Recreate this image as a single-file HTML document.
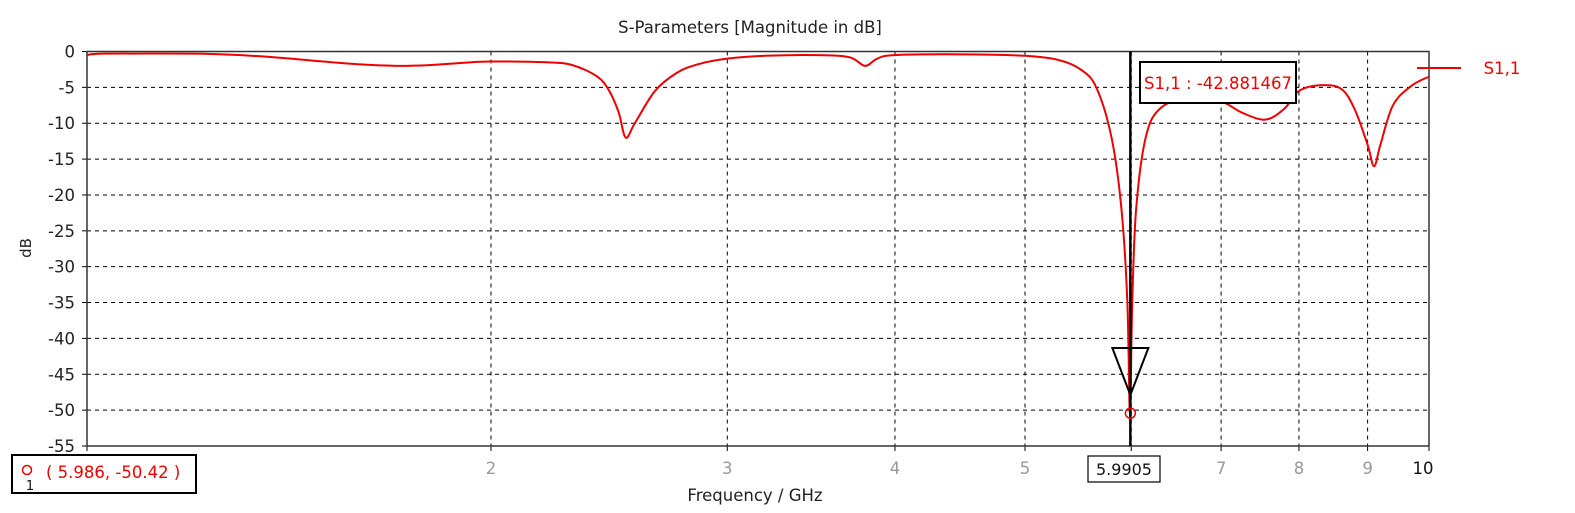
<!DOCTYPE html>
<html><head><meta charset="utf-8"><style>
body{margin:0;background:#fff;width:1575px;height:508px;overflow:hidden}
text{font-family:"DejaVu Sans","Liberation Sans",sans-serif}
</style></head><body>
<svg id="chart" width="1575" height="508" xmlns="http://www.w3.org/2000/svg">
<text x="750" y="33" font-size="16.5" text-anchor="middle" fill="#222">S-Parameters [Magnitude in dB]</text>
<text x="755" y="501" font-size="16.5" text-anchor="middle" fill="#222">Frequency / GHz</text>
<text x="0" y="0" font-size="15" text-anchor="middle" fill="#222" transform="translate(31,248) rotate(-90)">dB</text>
<g id="grid"></g><g id="axes"></g><g id="series"></g><g id="marker"></g>
</svg>
<script>
const freqs=[1.0,1.03,1.2,1.3,1.4,1.5,1.6,1.7,1.8,1.9,2.0,2.2,2.3,2.4,2.45,2.49,2.52,2.56,2.65,2.75,2.85,3.0,3.2,3.5,3.7,3.8,3.88,4.0,4.5,5.0,5.3,5.5,5.65,5.8,5.9,5.96,5.986,6.01,6.05,6.15,6.3,6.6,7.0,7.25,7.55,7.8,8.0,8.3,8.6,8.8,9.0,9.1,9.2,9.4,9.7,10];
const s11=[-0.5,-0.3,-0.3,-0.5,-0.9,-1.4,-1.8,-2.0,-1.9,-1.6,-1.4,-1.5,-1.9,-3.5,-5.5,-8.5,-12,-10,-5.5,-3,-1.8,-1.0,-0.6,-0.5,-0.8,-2.0,-1.0,-0.5,-0.4,-0.6,-1.2,-2.5,-5,-12,-22,-35,-50.4,-35,-22,-12,-8,-6.5,-7,-8.5,-9.5,-8,-5.5,-4.7,-5.2,-8,-13,-16,-13,-7.5,-4.8,-3.5];
const yTicks=[0,-5,-10,-15,-20,-25,-30,-35,-40,-45,-50,-55];
const xTicks=[1,2,3,4,5,6,7,8,9,10];
const xTickLabels=["","2","3","4","5","","7","8","9","10"];
const markerFreq=5.9905, markerDb=-50.42, markerReadout=-42.881467;
const L=87,R=1429,T=51.5,B=446;
const X=f=>L+Math.log10(f)*(R-L);
const Y=d=>T+(0-d)/55*(B-T);
const NS="http://www.w3.org/2000/svg";
function mk(p,tag,a,txt){const e=document.createElementNS(NS,tag);for(const k in a)e.setAttribute(k,a[k]);if(txt!==undefined)e.textContent=txt;p.appendChild(e);return e;}
const grid=document.getElementById('grid'),axes=document.getElementById('axes'),ser=document.getElementById('series'),mg=document.getElementById('marker');
yTicks.forEach((v,i)=>{
 if(i>0&&i<yTicks.length-1){const g=mk(grid,'line',{x1:L,x2:R,y1:Y(v),y2:Y(v),stroke:'#000','stroke-dasharray':'4,4','stroke-width':1});
 
 }
 const t=mk(axes,'text',{x:L-12,y:Y(v)+6,'font-size':16.5,'text-anchor':'end',fill:'#222'},String(v));
 
 
 mk(axes,'line',{x1:L-5,x2:L,y1:Y(v),y2:Y(v),stroke:'#000'});
});
xTicks.forEach((f,i)=>{
 if(f>1&&f<10){const g=mk(grid,'line',{x1:X(f),x2:X(f),y1:T,y2:B,stroke:'#000','stroke-dasharray':'4,4'});
 
 }
 mk(axes,'line',{x1:X(f),x2:X(f),y1:B,y2:B+5,stroke:'#000'});
 if(xTickLabels[i]){const t=mk(axes,'text',{x:X(f)-(f==10?6:0),y:B+28,'font-size':16.5,'text-anchor':'middle',fill:f==10?'#111':'#999'},xTickLabels[i]);
 
 }
});
const frame=mk(axes,'rect',{x:L,y:T,width:R-L,height:B-T,fill:'none',stroke:'#333','stroke-width':1.5});


const pts=freqs.map((f,i)=>[X(f),Y(s11[i])]);
let d='M'+pts[0][0]+','+pts[0][1];
for(let i=0;i<pts.length-1;i++){const p0=pts[Math.max(0,i-1)],p1=pts[i],p2=pts[i+1],p3=pts[Math.min(pts.length-1,i+2)];
 d+=` C${p1[0]+(p2[0]-p0[0])/6},${p1[1]+(p2[1]-p0[1])/6} ${p2[0]-(p3[0]-p1[0])/6},${p2[1]-(p3[1]-p1[1])/6} ${p2[0]},${p2[1]}`;}
const line=mk(ser,'path',{d:d,fill:'none',stroke:'#e00','stroke-width':2});


const lg=mk(ser,'line',{x1:1417,x2:1461,y1:68,y2:68,stroke:'#e00','stroke-width':2});


const lt=mk(ser,'text',{x:1502,y:74,'font-size':16.5,'text-anchor':'middle',fill:'#e00'},'S1,1');


const mx=X(markerFreq);
const ml=mk(mg,'line',{x1:mx,x2:mx,y1:T,y2:B,stroke:'#000','stroke-width':2.5});


const tri=mk(mg,'polygon',{points:`${mx-18},${348} ${mx+18},${348} ${mx},${395}`,fill:'none',stroke:'#000','stroke-width':2});


const mc=mk(mg,'circle',{cx:mx,cy:Y(markerDb),r:5,fill:'none',stroke:'#e00','stroke-width':1.5});


const rb=mk(mg,'rect',{x:1140,y:62,width:156,height:41,fill:'#fff',stroke:'#000','stroke-width':2});


const rt=mk(mg,'text',{x:1218,y:89,'font-size':16.5,'text-anchor':'middle',fill:'#e00'},'S1,1 : '+markerReadout);


const fb=mk(mg,'rect',{x:1088,y:456,width:72,height:26,fill:'#fff',stroke:'#000','stroke-width':1.2});


const ft=mk(mg,'text',{x:1124,y:475,'font-size':16,'text-anchor':'middle',fill:'#111'},String(markerFreq));


const cb=mk(mg,'rect',{x:12,y:455,width:184,height:38,fill:'#fff',stroke:'#000','stroke-width':2});


mk(mg,'circle',{cx:27,cy:470,r:4.5,fill:'none',stroke:'#e00','stroke-width':1.5});
mk(mg,'text',{x:30,y:490,'font-size':13,'text-anchor':'middle',fill:'#111'},'1');
const ct=mk(mg,'text',{x:46,y:478,'font-size':16.5,fill:'#e00'},'( 5.986, -50.42 )');


</script>
</body></html>
